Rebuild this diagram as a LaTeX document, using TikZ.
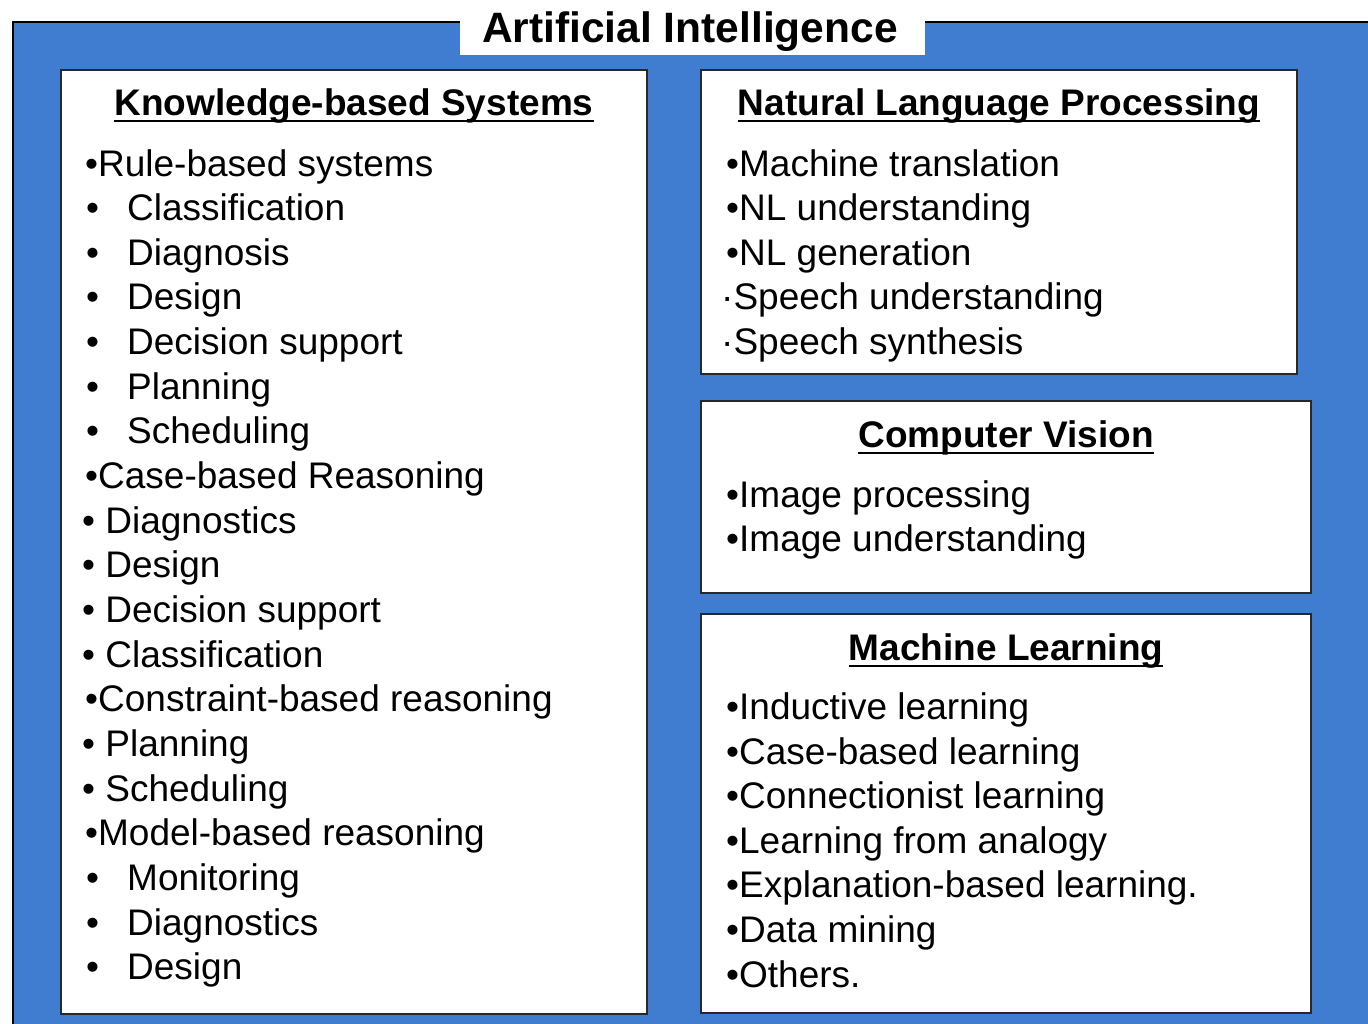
\documentclass[tikz,border=0pt]{standalone}
\usepackage{fontspec}
\setmainfont{Liberation Sans}
\definecolor{aiblue}{RGB}{64,124,208}
\definecolor{boxedge}{RGB}{40,40,40}
\begin{document}
\begin{tikzpicture}[x=1pt,y=-1pt,
  panel/.style={draw=boxedge,line width=2pt,fill=white},
  body/.style={anchor=base west,inner sep=0pt,font=\fontsize{37}{40}\selectfont},
  head/.style={anchor=base,inner sep=0pt,font=\fontsize{37}{40}\selectfont\bfseries},
  ttl/.style={anchor=base,inner sep=0pt,font=\fontsize{42.5}{46}\selectfont\bfseries}]
\useasboundingbox (0,0) rectangle (1368,1023);
\clip (0,0) rectangle (1368,1023);
% blue background
\draw[fill=aiblue,draw=black,line width=2pt] (13,22) rectangle (1400,1050);
% title box
\fill[white] (460,0) rectangle (925,55);
\node[ttl] (title) at (690,42) {Artificial Intelligence};
% panels
\draw[panel] (61,70) rectangle (647,1014);
\draw[panel] (701,70) rectangle (1297,374);
\draw[panel] (701,401) rectangle (1311,593);
\draw[panel] (701,614) rectangle (1311,1013);
% headings
\node[head] (kbs) at (354,115) {Knowledge-based Systems};
\node[head] (nlp) at (999,115) {Natural Language Processing};
\node[head] (cv) at (1006,447) {Computer Vision};
\node[head] (ml) at (1006,660) {Machine Learning};
\foreach \n in {kbs,nlp,cv,ml}{
  \draw[line width=2pt] ([yshift=-6pt]\n.base west) -- ([yshift=-6pt]\n.base east);
}
% left panel
\foreach \i/\k/\t in {0/m/Rule-based systems,1/t/Classification,2/t/Diagnosis,3/t/Design,4/t/Decision support,5/t/Planning,6/t/Scheduling,7/m/Case-based Reasoning,8/s/Diagnostics,9/s/Design,10/s/Decision support,11/s/Classification,12/m/Constraint-based reasoning,13/s/Planning,14/s/Scheduling,15/m/Model-based reasoning,16/t/Monitoring,17/t/Diagnostics,18/t/Design}{
  \pgfmathsetmacro{\yy}{176+44.65*\i}
  \if\k m
    \node[body] (L\i) at (85,\yy) {•\t};
  \else\if\k s
    \node[body] (L\i) at (82,\yy) {• \t};
  \else
    \node[body] (Lb\i) at (86,\yy) {•};
    \node[body] (L\i) at (127,\yy) {\t};
  \fi\fi
}
% NLP
\foreach \i/\t in {0/•Machine translation,1/•NL understanding,2/•NL generation}{
  \pgfmathsetmacro{\yy}{176+44.6*\i}
  \node[body] (N\i) at (726,\yy) {\t};
}
\node[body] (N3) at (721,309.8) {·Speech understanding};
\node[body] (N4) at (721,354.4) {·Speech synthesis};
% CV
\node[body] (C0) at (726,507) {•Image processing};
\node[body] (C1) at (726,551) {•Image understanding};
% ML
\foreach \i/\t in {0/•Inductive learning,1/•Case-based learning,2/•Connectionist learning,3/•Learning from analogy,4/•Explanation-based learning.,5/•Data mining,6/•Others.}{
  \pgfmathsetmacro{\yy}{719.5+44.6*\i}
  \node[body] (M\i) at (726,\yy) {\t};
}
\end{tikzpicture}
\end{document}
